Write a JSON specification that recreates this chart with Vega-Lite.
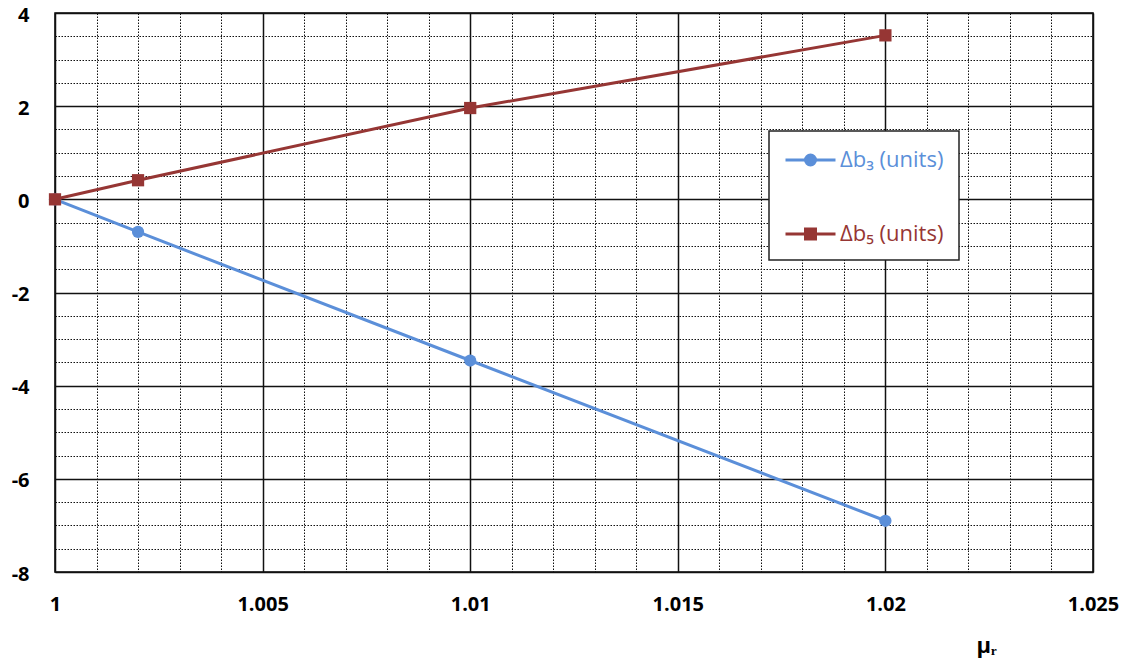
{
  "$schema": "https://vega.github.io/schema/vega-lite/v6.json",
  "width": 1038,
  "height": 559,
  "autosize": {"type": "none"},
  "padding": {"left": 55, "top": 13, "right": 35, "bottom": 96},
  "background": "white",
  "config": {
    "view": {"stroke": "black", "strokeWidth": 1.5},
    "font": "Open Sans"
  },
  "data": {
    "values": [
      {"mu": 1.0, "delta": 0.0, "series": "Δb₃ (units)"},
      {"mu": 1.002, "delta": -0.7, "series": "Δb₃ (units)"},
      {"mu": 1.01, "delta": -3.46, "series": "Δb₃ (units)"},
      {"mu": 1.02, "delta": -6.9, "series": "Δb₃ (units)"},
      {"mu": 1.0, "delta": 0.0, "series": "Δb₅ (units)"},
      {"mu": 1.002, "delta": 0.41, "series": "Δb₅ (units)"},
      {"mu": 1.01, "delta": 1.96, "series": "Δb₅ (units)"},
      {"mu": 1.02, "delta": 3.52, "series": "Δb₅ (units)"}
    ]
  },
  "encoding": {
    "x": {
      "field": "mu", "type": "quantitative",
      "scale": {"domain": [1, 1.025], "nice": false, "zero": false},
      "axis": {
        "title": "μᵣ",
        "titleFont": "Open Sans", "titleFontSize": 22, "titleFontWeight": "bold", "titleColor": "black",
        "titleX": 931, "titleY": 80, "titleAnchor": "middle", "titleBaseline": "alphabetic",
        "values": [1, 1.001, 1.002, 1.003, 1.004, 1.005, 1.006, 1.007, 1.008, 1.009, 1.01, 1.011, 1.012, 1.013, 1.014, 1.015, 1.016, 1.017, 1.018, 1.019, 1.02, 1.021, 1.022, 1.023, 1.024, 1.025],
        "labelExpr": "abs(datum.value*200 - round(datum.value*200)) < 1e-6 ? '' + datum.value : ''",
        "labelFont": "Open Sans", "labelFontSize": 20, "labelFontWeight": "bold", "labelColor": "black",
        "labelPadding": 22, "labelFlush": false, "labelOverlap": false,
        "ticks": false, "domain": false,
        "grid": true,
        "gridColor": "#111",
        "gridOpacity": 1,
        "gridWidth": {"condition": {"test": "abs(datum.value*200 - round(datum.value*200)) < 1e-6", "value": 1.5}, "value": 1},
        "gridDash": {"condition": {"test": "abs(datum.value*200 - round(datum.value*200)) < 1e-6", "value": []}, "value": [1.5, 1.5]}
      }
    },
    "y": {
      "field": "delta", "type": "quantitative",
      "scale": {"domain": [-8, 4], "nice": false, "zero": false},
      "axis": {
        "title": null,
        "values": [-8, -7.5, -7, -6.5, -6, -5.5, -5, -4.5, -4, -3.5, -3, -2.5, -2, -1.5, -1, -0.5, 0, 0.5, 1, 1.5, 2, 2.5, 3, 3.5, 4],
        "labelExpr": "datum.value % 2 === 0 ? '' + datum.value : ''",
        "labelFont": "Open Sans", "labelFontSize": 20, "labelFontWeight": "bold", "labelColor": "black",
        "labelPadding": 26, "labelFlush": false, "labelOverlap": false, "labelOffset": 2,
        "ticks": false, "domain": false,
        "grid": true,
        "gridColor": "#111",
        "gridOpacity": 1,
        "gridWidth": {"condition": {"test": "datum.value % 2 === 0", "value": 1.5}, "value": 1},
        "gridDash": {"condition": {"test": "datum.value % 2 === 0", "value": []}, "value": [1.5, 1.5]}
      }
    },
    "color": {
      "field": "series", "type": "nominal",
      "scale": {"domain": ["Δb₃ (units)", "Δb₅ (units)"], "range": ["#5B8FD9", "#963634"]},
      "legend": {
        "title": null,
        "orient": "none", "legendX": 714, "legendY": 118,
        "fillColor": "white", "strokeColor": "#222",
        "padding": 15,
        "symbolSize": 625,
        "symbolType": "M-1,0H3M0.6,0A0.4,0.4,0,1,1,1.4,0A0.4,0.4,0,1,1,0.6,0Z",
        "rowPadding": 49,
        "labelFont": "Open Sans", "labelFontSize": 22,
        "labelOffset": 28,
        "labelLimit": 300,
        "encode": {
          "legend": {"update": {"strokeWidth": {"value": 1.5}}},
          "symbols": {"update": {
            "shape": {"signal": "datum.value === 'Δb₃ (units)' ? 'M-1,0H3M0.6,0A0.4,0.4,0,1,1,1.4,0A0.4,0.4,0,1,1,0.6,0Z' : 'M-1,0H3M0.6,-0.4H1.4V0.4H0.6Z'"},
            "size": {"value": 625},
            "strokeWidth": {"value": 3},
            "fill": {"signal": "datum.value === 'Δb₃ (units)' ? '#5B8FD9' : '#963634'"},
            "stroke": {"signal": "datum.value === 'Δb₃ (units)' ? '#5B8FD9' : '#963634'"},
            "opacity": {"value": 1},
            "fillOpacity": {"value": 1},
            "strokeOpacity": {"value": 1}
          }},
          "labels": {"update": {"fill": {"signal": "datum.value === 'Δb₃ (units)' ? '#5B8FD9' : '#963634'"}}}
        }
      }
    }
  },
  "layer": [
    {
      "mark": {"type": "line", "strokeWidth": 3},
      "encoding": {}
    },
    {
      "transform": [{"filter": "datum.series === 'Δb₃ (units)'"}],
      "mark": {"type": "point", "shape": "circle", "filled": true, "opacity": 1, "size": 150},
      "encoding": {}
    },
    {
      "transform": [{"filter": "datum.series === 'Δb₅ (units)'"}],
      "mark": {"type": "point", "shape": "square", "filled": true, "opacity": 1, "size": 150},
      "encoding": {}
    }
  ]
}
